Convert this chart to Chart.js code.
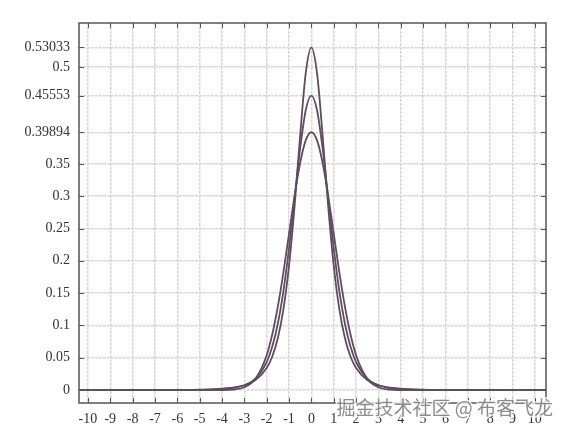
<!DOCTYPE html>
<html lang="zh">
<head>
<meta charset="UTF-8">
<title>Standardised t vs normal density</title>
<script src="https://cdn.jsdelivr.net/npm/chart.js@4.4.1/dist/chart.umd.min.js"></script>
<style>
  html, body { margin: 0; padding: 0; background: #fff; }
</style>
</head>
<body>
<canvas id="chart" width="566" height="429"></canvas>
<script>
// sample positions along x
const xs = [-10.4, -8, -6, -5, -4, -3.5, -3, -2.5, -2, -1.75, -1.5, -1.25, -1, -0.75, -0.5, -0.25,
  0, 0.25, 0.5, 0.75, 1, 1.25, 1.5, 1.75, 2, 2.5, 3, 3.5, 4, 5, 6, 8, 10.5];

// lowest peak (0.39894)
const normal = [0, 0, 0, 0, 0.00013, 0.00087, 0.00443, 0.01753, 0.05399, 0.08628, 0.12952, 0.18265, 0.24197, 0.30114, 0.35207, 0.38667,
  0.39894, 0.38667, 0.35207, 0.30114, 0.24197, 0.18265, 0.12952, 0.08628, 0.05399, 0.01753, 0.00443, 0.00087, 0.00013, 0, 0, 0, 0];

// middle peak (0.45553)
const middle = [0, 0.00001, 0.0001, 0.00035, 0.00146, 0.00322, 0.00741, 0.01778, 0.04339, 0.06739, 0.10306, 0.1535, 0.21968, 0.29738, 0.37476, 0.43345,
  0.45553, 0.43345, 0.37476, 0.29738, 0.21968, 0.1535, 0.10306, 0.06739, 0.04339, 0.01778, 0.00741, 0.00322, 0.00146, 0.00035, 0.0001, 0.00001, 0];

// highest peak (0.53033)
const tallest = [0.00003, 0.00008, 0.00034, 0.00079, 0.00218, 0.00392, 0.00748, 0.01535, 0.03402, 0.05203, 0.08057, 0.12525, 0.19245, 0.28541, 0.39506, 0.49106,
  0.53033, 0.49106, 0.39506, 0.28541, 0.19245, 0.12525, 0.08057, 0.05203, 0.03402, 0.01535, 0.00748, 0.00392, 0.00218, 0.00079, 0.00034, 0.00008, 0.00003];

const xTicks = [-10, -9, -8, -7, -6, -5, -4, -3, -2, -1, 0, 1, 2, 3, 4, 5, 6, 7, 8, 9, 10];
const yTicks = [0, 0.05, 0.1, 0.15, 0.2, 0.25, 0.3, 0.35, 0.39894, 0.45553, 0.5, 0.53033];

const lineColor = '#5d4d5f';
const toPoints = ys => ys.map((y, i) => ({ x: xs[i], y: y }));

// box round the plot with small inward ticks, plus the watermark
const framePlugin = {
  id: 'frame',
  afterDraw(chart) {
    const { ctx, chartArea: a, scales } = chart;
    ctx.save();
    ctx.strokeStyle = '#555';
    ctx.lineWidth = 1.5;
    ctx.strokeRect(a.left, a.top, a.right - a.left, a.bottom - a.top);

    ctx.lineWidth = 1;
    ctx.beginPath();
    xTicks.forEach(v => {
      const px = Math.round(scales.x.getPixelForValue(v)) + 0.5;
      ctx.moveTo(px, a.bottom); ctx.lineTo(px, a.bottom - 5);
      ctx.moveTo(px, a.top); ctx.lineTo(px, a.top + 5);
    });
    yTicks.forEach(v => {
      const py = Math.round(scales.y.getPixelForValue(v)) + 0.5;
      ctx.moveTo(a.left, py); ctx.lineTo(a.left + 5, py);
      ctx.moveTo(a.right, py); ctx.lineTo(a.right - 5, py);
    });
    ctx.stroke();

    ctx.font = '19px "Noto Sans CJK SC"';
    ctx.textAlign = 'right';
    ctx.textBaseline = 'middle';
    ctx.lineWidth = 3;
    ctx.strokeStyle = 'rgba(255,255,255,0.8)';
    ctx.strokeText('掘金技术社区 @ 布客飞龙', 553, 408);
    ctx.fillStyle = 'rgba(120,120,120,0.85)';
    ctx.fillText('掘金技术社区 @ 布客飞龙', 553, 408);
    ctx.restore();
  }
};

const tickFont = { family: '"Liberation Serif", serif', size: 14 };
const gridStyle = { color: '#d6d6d6', lineWidth: 1.5, drawTicks: false };

new Chart(document.getElementById('chart'), {
  type: 'line',
  data: {
    datasets: [
      { data: toPoints(normal) },
      { data: toPoints(middle) },
      { data: toPoints(tallest) }
    ].map(d => Object.assign(d, {
      borderColor: lineColor,
      borderWidth: 1.8,
      pointRadius: 0,
      fill: false,
      cubicInterpolationMode: 'monotone'
    }))
  },
  options: {
    responsive: false,
    animation: false,
    layout: { padding: { top: 23, right: 20, left: 0, bottom: 0 } },
    plugins: { legend: { display: false }, tooltip: { enabled: false } },
    scales: {
      x: {
        type: 'linear',
        min: -10.4,
        max: 10.5,
        afterBuildTicks: s => { s.ticks = xTicks.map(v => ({ value: v })); },
        afterFit: s => { s.height = 26; },
        grid: gridStyle,
        border: { display: false, dash: [3, 1] },
        ticks: { font: tickFont, color: '#333', padding: 8, autoSkip: false, maxRotation: 0 }
      },
      y: {
        type: 'linear',
        min: -0.02,
        max: 0.568,
        afterBuildTicks: s => { s.ticks = yTicks.map(v => ({ value: v })); },
        afterFit: s => { s.width = 79; },
        grid: gridStyle,
        border: { display: false, dash: [3, 1] },
        ticks: { font: tickFont, color: '#333', padding: 9, autoSkip: false, callback: v => String(v) }
      }
    }
  },
  plugins: [framePlugin]
});
</script>
</body>
</html>
